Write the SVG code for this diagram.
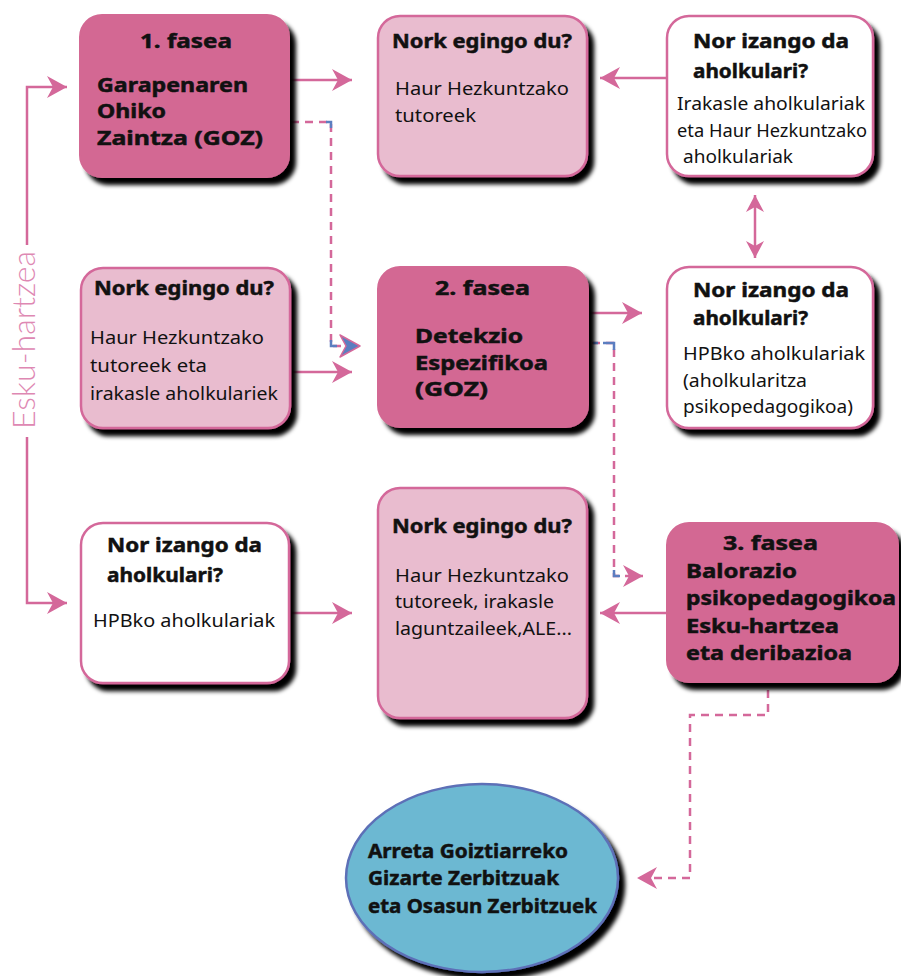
<svg xmlns="http://www.w3.org/2000/svg" width="901" height="976" viewBox="0 0 901 976">
  <defs>
    <filter id="shadow" x="-10%" y="-10%" width="125%" height="130%">
      <feGaussianBlur in="SourceAlpha" stdDeviation="2.2" result="b"/>
      <feOffset in="b" dx="6" dy="7" result="o"/>
      <feFlood flood-color="#000"/>
      <feComposite in2="o" operator="in" result="s"/>
      <feMerge><feMergeNode in="s"/><feMergeNode in="SourceGraphic"/></feMerge>
    </filter>
    <marker id="head" markerUnits="userSpaceOnUse" markerWidth="22" markerHeight="24" refX="20" refY="11" orient="auto" overflow="visible">
      <path d="M0,0 L20,11 L0,22 L6,11 Z" fill="#d4689a"/>
    </marker>
    <marker id="headSmall" markerUnits="userSpaceOnUse" markerWidth="20" markerHeight="20" refX="17" refY="9" orient="auto-start-reverse" overflow="visible">
      <path d="M0,0 L17,9 L0,18 L5,9 Z" fill="#d4689a"/>
    </marker>
    <marker id="headBlue" markerUnits="userSpaceOnUse" markerWidth="22" markerHeight="24" refX="20" refY="11" orient="auto" overflow="visible">
      <path d="M0,0 L20,11 L0,22 L6,11 Z" fill="#5b7ec0" stroke="#d4689a" stroke-width="1.5" stroke-linejoin="round"/>
    </marker>
  </defs>
  <style>
    .dark { fill: #d36893; stroke: #d36893; stroke-width: 2; filter: url(#shadow); }
    .light { fill: #e9bccf; stroke: #d4689a; stroke-width: 2.5; filter: url(#shadow); }
    .white { fill: #ffffff; stroke: #d4689a; stroke-width: 2.5; filter: url(#shadow); }
    .oval { fill: #6cb8d2; stroke: #5d6fb7; stroke-width: 2.5; filter: url(#shadow); }
    text { font-family: "Noto Sans", "DejaVu Sans", sans-serif; fill: #111; }
    .t { font-size: 20px; font-weight: bold; stroke: #111; stroke-width: 0.5; }
    .b { font-size: 18px; }
    .conn { fill: none; stroke: #d4689a; stroke-width: 2.5; }
    .dash { fill: none; stroke: #d4689a; stroke-width: 2.5; stroke-dasharray: 8 6; }
    .blue { fill: none; stroke: #5b7ec0; stroke-width: 2.5; }
    .side { font-family: "Lato", "Open Sans", sans-serif; font-weight: 300; font-size: 31px; fill: #de88b3; stroke: none; }
  </style>

  <!-- connectors -->
  <g id="connectors">
    <path class="conn" d="M289,80 L352,80" marker-end="url(#head)"/>
    <path class="conn" d="M667,78 L600,78" marker-end="url(#head)"/>
    <path class="conn" d="M290,372 L352,372" marker-end="url(#head)"/>
    <path class="conn" d="M588,313 L642,313" marker-end="url(#head)"/>
    <path class="conn" d="M289,613 L352,613" marker-end="url(#head)"/>
    <path class="conn" d="M667,613 L600,613" marker-end="url(#head)"/>
    <path class="conn" d="M755,195 L755,258" marker-start="url(#headSmall)" marker-end="url(#headSmall)"/>

    <!-- dashed routes -->
    <path class="dash" d="M291,122 L331,122 L331,346 L360,346" marker-end="url(#headBlue)"/>
    <path class="blue" d="M326,122 L331,122 L331,128"/>
    <path class="blue" d="M331,340 L331,346 L337,346"/>
    <path class="dash" d="M592,343 L614,343 L614,576 L643,576" marker-end="url(#head)"/>
    <path class="blue" d="M593,343 L598,343 M603,343 L614,343 L614,350"/>
    <path class="blue" d="M614,570 L614,576 L620,576"/>
    <path class="dash" d="M768,690 L768,715 L690,715 L690,878 L637,878" marker-end="url(#head)"/>

    <!-- intervention bracket -->
    <path class="conn" d="M27,245 L27,87 L67,87" marker-end="url(#head)"/>
    <path class="conn" d="M27,437 L27,603 L67,603" marker-end="url(#head)"/>
    <text class="side" transform="translate(35,340) rotate(-90)" text-anchor="middle" textLength="178" lengthAdjust="spacingAndGlyphs">Esku-hartzea</text>
  </g>

  <!-- phase 1 -->
  <g id="fasea1">
    <rect class="dark" x="80" y="15" width="209" height="162" rx="22"/>
    <text class="t" x="140" y="48" textLength="92" lengthAdjust="spacingAndGlyphs">1. fasea</text>
    <text class="t" x="97" y="92" textLength="151" lengthAdjust="spacingAndGlyphs">Garapenaren</text>
    <text class="t" x="97" y="118" textLength="69" lengthAdjust="spacingAndGlyphs">Ohiko</text>
    <text class="t" x="97" y="145" textLength="166" lengthAdjust="spacingAndGlyphs">Zaintza (GOZ)</text>
  </g>

  <g id="nork1">
    <rect class="light" x="378" y="16" width="209" height="160" rx="22"/>
    <text class="t" x="392" y="48" textLength="180" lengthAdjust="spacingAndGlyphs">Nork egingo du?</text>
    <text class="b" x="395" y="95" textLength="174" lengthAdjust="spacingAndGlyphs">Haur Hezkuntzako</text>
    <text class="b" x="395" y="122" textLength="81" lengthAdjust="spacingAndGlyphs">tutoreek</text>
  </g>

  <g id="nor1">
    <rect class="white" x="667" y="16" width="206" height="160" rx="22"/>
    <text class="t" x="693" y="48" textLength="156" lengthAdjust="spacingAndGlyphs">Nor izango da</text>
    <text class="t" x="693" y="78" textLength="115" lengthAdjust="spacingAndGlyphs">aholkulari?</text>
    <text class="b" x="677" y="110" textLength="188" lengthAdjust="spacingAndGlyphs">Irakasle aholkulariak</text>
    <text class="b" x="677" y="137" textLength="190" lengthAdjust="spacingAndGlyphs">eta Haur Hezkuntzako</text>
    <text class="b" x="683" y="163" textLength="110" lengthAdjust="spacingAndGlyphs">aholkulariak</text>
  </g>

  <!-- phase 2 -->
  <g id="nork2">
    <rect class="light" x="81" y="268" width="209" height="160" rx="22"/>
    <text class="t" x="94" y="295" textLength="180" lengthAdjust="spacingAndGlyphs">Nork egingo du?</text>
    <text class="b" x="90" y="344" textLength="174" lengthAdjust="spacingAndGlyphs">Haur Hezkuntzako</text>
    <text class="b" x="90" y="372" textLength="117" lengthAdjust="spacingAndGlyphs">tutoreek eta</text>
    <text class="b" x="90" y="400" textLength="188" lengthAdjust="spacingAndGlyphs">irakasle aholkulariek</text>
  </g>

  <g id="fasea2">
    <rect class="dark" x="378" y="267" width="210" height="160" rx="22"/>
    <text class="t" x="435" y="295" textLength="95" lengthAdjust="spacingAndGlyphs">2. fasea</text>
    <text class="t" x="415" y="343" textLength="108" lengthAdjust="spacingAndGlyphs">Detekzio</text>
    <text class="t" x="415" y="370" textLength="133" lengthAdjust="spacingAndGlyphs">Espezifikoa</text>
    <text class="t" x="415" y="396" textLength="73" lengthAdjust="spacingAndGlyphs">(GOZ)</text>
  </g>

  <g id="nor2">
    <rect class="white" x="667" y="267" width="206" height="161" rx="22"/>
    <text class="t" x="693" y="297" textLength="156" lengthAdjust="spacingAndGlyphs">Nor izango da</text>
    <text class="t" x="693" y="325" textLength="115" lengthAdjust="spacingAndGlyphs">aholkulari?</text>
    <text class="b" x="683" y="360" textLength="182" lengthAdjust="spacingAndGlyphs">HPBko aholkulariak</text>
    <text class="b" x="683" y="387" textLength="124" lengthAdjust="spacingAndGlyphs">(aholkularitza</text>
    <text class="b" x="683" y="413" textLength="170" lengthAdjust="spacingAndGlyphs">psikopedagogikoa)</text>
  </g>

  <!-- phase 3 -->
  <g id="nor3">
    <rect class="white" x="81" y="523" width="208" height="160" rx="22"/>
    <text class="t" x="107" y="552" textLength="155" lengthAdjust="spacingAndGlyphs">Nor izango da</text>
    <text class="t" x="107" y="582" textLength="116" lengthAdjust="spacingAndGlyphs">aholkulari?</text>
    <text class="b" x="93" y="627" textLength="182" lengthAdjust="spacingAndGlyphs">HPBko aholkulariak</text>
  </g>

  <g id="nork3">
    <rect class="light" x="378" y="488" width="209" height="230" rx="22"/>
    <text class="t" x="392" y="533" textLength="180" lengthAdjust="spacingAndGlyphs">Nork egingo du?</text>
    <text class="b" x="395" y="582" textLength="174" lengthAdjust="spacingAndGlyphs">Haur Hezkuntzako</text>
    <text class="b" x="395" y="608" textLength="159" lengthAdjust="spacingAndGlyphs">tutoreek, irakasle</text>
    <text class="b" x="395" y="635" textLength="177" lengthAdjust="spacingAndGlyphs">laguntzaileek,ALE...</text>
  </g>

  <g id="fasea3">
    <rect class="dark" x="667" y="523" width="231" height="159" rx="22"/>
    <text class="t" x="723" y="550" textLength="95" lengthAdjust="spacingAndGlyphs">3. fasea</text>
    <text class="t" x="686" y="578" textLength="111" lengthAdjust="spacingAndGlyphs">Balorazio</text>
    <text class="t" x="686" y="605" textLength="210" lengthAdjust="spacingAndGlyphs">psikopedagogikoa</text>
    <text class="t" x="686" y="633" textLength="153" lengthAdjust="spacingAndGlyphs">Esku-hartzea</text>
    <text class="t" x="686" y="660" textLength="166" lengthAdjust="spacingAndGlyphs">eta deribazioa</text>
  </g>

  <!-- external services -->
  <g id="zerbitzuak">
    <ellipse class="oval" cx="482" cy="878" rx="136" ry="94"/>
    <text class="t" x="368" y="858" textLength="200" lengthAdjust="spacingAndGlyphs">Arreta Goiztiarreko</text>
    <text class="t" x="368" y="885" textLength="191" lengthAdjust="spacingAndGlyphs">Gizarte Zerbitzuak</text>
    <text class="t" x="368" y="913" textLength="229" lengthAdjust="spacingAndGlyphs">eta Osasun Zerbitzuek</text>
  </g>
</svg>
